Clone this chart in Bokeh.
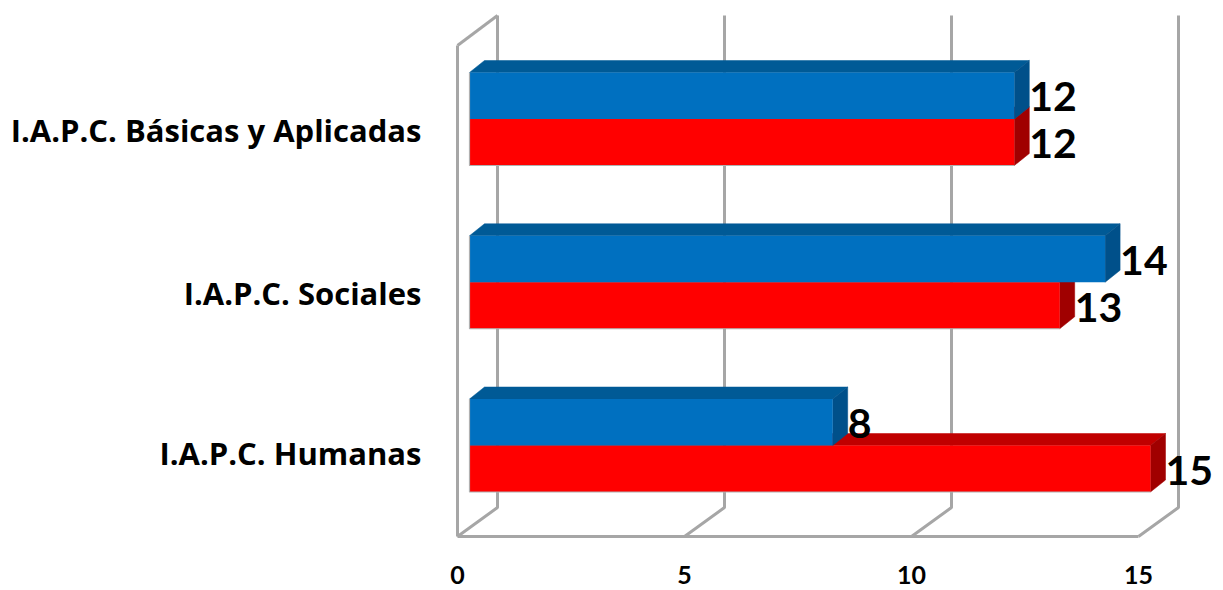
from bokeh.plotting import figure
from bokeh.models import Range1d, FixedTicker, ColumnDataSource
from bokeh.core.properties import value
from bokeh.embed import file_html
from bokeh.resources import INLINE

categories = ["I.A.P.C. Humanas", "I.A.P.C. Sociales", "I.A.P.C. Básicas y Aplicadas"]
series_blue = [8, 14, 12]
series_red = [15, 13, 12]
x_ticks = [0, 5, 10, 15]

PX = 45.4      # pixels per x unit
PY = 163.25    # pixels per category step
X0, Y0 = 457, 445  # page pixel of x=0 and of category 0
W, H = 1215, 590
LEFT, RIGHT, TOP, BOTTOM = 430, W, 0, 553
FONT = "Lato"

def yd(py):
    return (Y0 - py) / PY

BH = 46.5 / PY
BASE = 12 / PX
DX, DY = 15 / PX, 12 / PY
WDX = 40 / PX
GRID = "#A6A6A6"

p = figure(width=W, height=H, output_backend="svg", toolbar_location=None,
           x_range=Range1d((LEFT - X0) / PX, (RIGHT - X0) / PX),
           y_range=Range1d(yd(BOTTOM), yd(TOP)),
           min_border_left=LEFT, min_border_right=0, min_border_top=0,
           min_border_bottom=H - BOTTOM)
p.outline_line_color = None
p.grid.visible = False
p.background_fill_color = "white"

# walls
wt, wb, ft, fb = yd(15), yd(507), yd(45), yd(536)
for t in x_ticks:
    p.line([t + WDX, t + WDX, t], [wt, wb, fb], line_color=GRID, line_width=3)
p.line([0, WDX], [ft, wt], line_color=GRID, line_width=3)
p.line([0, 0], [ft, fb], line_color=GRID, line_width=3)
p.line([0, 15], [fb, fb], line_color=GRID, line_width=3)

# bars
def draw(values, offs, front, topc, sidec):
    n = range(len(values))
    top = [i + offs + BH / 2 for i in n]
    bot = [i + offs - BH / 2 for i in n]
    tops_x = [[BASE, BASE + v, BASE + v + DX, BASE + DX] for v in values]
    tops_y = [[top[i], top[i], top[i] + DY, top[i] + DY] for i in n]
    side_x = [[BASE + v, BASE + v + DX, BASE + v + DX, BASE + v] for v in values]
    side_y = [[top[i], top[i] + DY, bot[i] + DY, bot[i]] for i in n]
    p.patches(tops_x, tops_y, fill_color=topc, line_color=topc, line_width=0.5)
    p.patches(side_x, side_y, fill_color=sidec, line_color=sidec, line_width=0.5)
    p.quad(left=[BASE] * len(values), right=[BASE + v for v in values], top=top, bottom=bot,
           fill_color=front, line_color=None)

draw(series_red, -BH / 2, "#FF0000", "#C00000", "#A00000")
draw(series_blue, BH / 2, "#0070C0", "#005A96", "#00508A")

# faint bar edge along the left and bottom
p.multi_line([[BASE, BASE, BASE + v] for v in series_red],
             [[i + BH, i - BH, i - BH] for i in range(len(series_red))],
             line_color="#B0B0B0", line_width=1.2)

# value labels
for values, offs in ((series_blue, BH / 2 - 1 / PY), (series_red, -BH / 2 - 1.5 / PY)):
    src = ColumnDataSource(dict(
        x=[BASE + v + DX for v in values],
        y=[i + offs for i in range(len(values))],
        t=[str(v) for v in values]))
    p.text("x", "y", text="t", source=src, text_font=value(FONT), text_font_style="bold",
           text_font_size="41px", text_color="black", text_baseline="middle", text_align="left")

# axes
xa = p.xaxis[0]
xa.ticker = FixedTicker(ticks=x_ticks)
xa.axis_line_color = None
xa.major_tick_line_color = None
xa.minor_tick_line_color = None
xa.major_tick_out = 0
xa.major_label_standoff = 12
xa.major_label_text_font = FONT
xa.major_label_text_font_style = "bold"
xa.major_label_text_font_size = "25px"
xa.major_label_text_color = "black"

label_y = {yd(452): categories[0], yd(292): categories[1], yd(129): categories[2]}
ya = p.yaxis[0]
ya.ticker = FixedTicker(ticks=list(label_y))
ya.major_label_overrides = label_y
ya.axis_line_color = None
ya.major_tick_line_color = None
ya.minor_tick_line_color = None
ya.major_tick_out = 0
ya.major_label_standoff = 9
ya.major_label_text_font = "Open Sans"
ya.major_label_text_font_style = "bold"
ya.major_label_text_font_size = "31px"
ya.major_label_text_color = "black"

open("out.html", "w").write(file_html(p, INLINE))
